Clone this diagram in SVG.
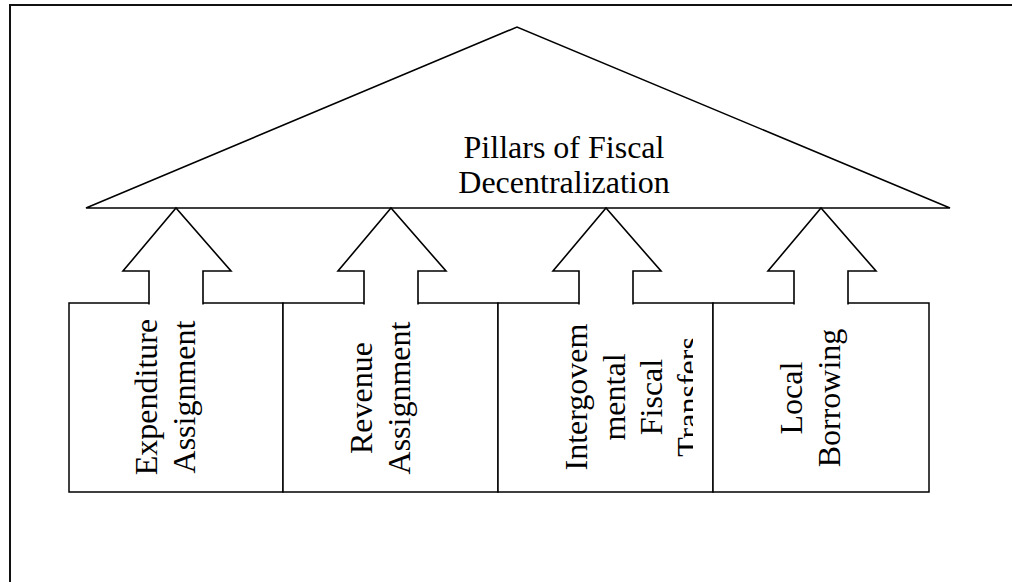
<svg xmlns="http://www.w3.org/2000/svg" width="1012" height="582" viewBox="0 0 1012 582">
<style>
.ln{fill:none;stroke:#000;stroke-width:1.6;stroke-linejoin:miter}
.box{fill:#fff;stroke:#000;stroke-width:1.5}
.arr{fill:#fff;stroke:#000;stroke-width:1.6;stroke-linejoin:miter}
.t{font-family:"Liberation Serif","Times New Roman",serif;font-size:32px;fill:#000;text-anchor:middle}
</style>
<defs>
<clipPath id="c3"><rect x="498" y="303" width="195" height="189"/></clipPath>
</defs>
<rect width="1012" height="582" fill="#fff"/>
<path d="M10,582 V5 H1012" fill="none" stroke="#111" stroke-width="2"/>
<g id="roof">
<path class="ln" d="M86,208 L517,27 L950,208 Z"/>
<text class="t"><tspan x="564" y="158">Pillars of Fiscal</tspan><tspan x="564" y="193">Decentralization</tspan></text>
</g>
<g id="pillar1">
<rect class="box" x="69" y="303" width="214" height="189"/>
<text class="t" transform="translate(0,397) rotate(-90)"><tspan x="0" y="157">Expenditure</tspan><tspan x="0" y="195">Assignment</tspan></text>
</g>
<g id="pillar2">
<rect class="box" x="283" y="303" width="215" height="189"/>
<text class="t" transform="translate(0,398) rotate(-90)"><tspan x="0" y="372">Revenue</tspan><tspan x="0" y="410">Assignment</tspan></text>
</g>
<g id="pillar3">
<rect class="box" x="498" y="303" width="215" height="189"/>
<g clip-path="url(#c3)">
<text class="t" transform="translate(0,397) rotate(-90)"><tspan x="0" y="587">Intergovem</tspan><tspan x="0" y="625">mental</tspan><tspan x="0" y="662">Fiscal</tspan><tspan x="0" y="699">Transfers</tspan></text>
</g>
</g>
<g id="pillar4">
<rect class="box" x="713" y="303" width="216" height="189"/>
<text class="t" transform="translate(0,398) rotate(-90)"><tspan x="0" y="802">Local</tspan><tspan x="0" y="840">Borrowing</tspan></text>
</g>
<g id="connectors">
<path class="arr" d="M149,304.5 V271 H123 L176,208 L231,271 H203 V304.5"/>
<path class="arr" d="M364,304.5 V271 H338 L391,208 L446,271 H418 V304.5"/>
<path class="arr" d="M579,304.5 V271 H553 L606,208 L661,271 H633 V304.5"/>
<path class="arr" d="M794,304.5 V271 H768 L821,208 L876,271 H848 V304.5"/>
</g>
</svg>
